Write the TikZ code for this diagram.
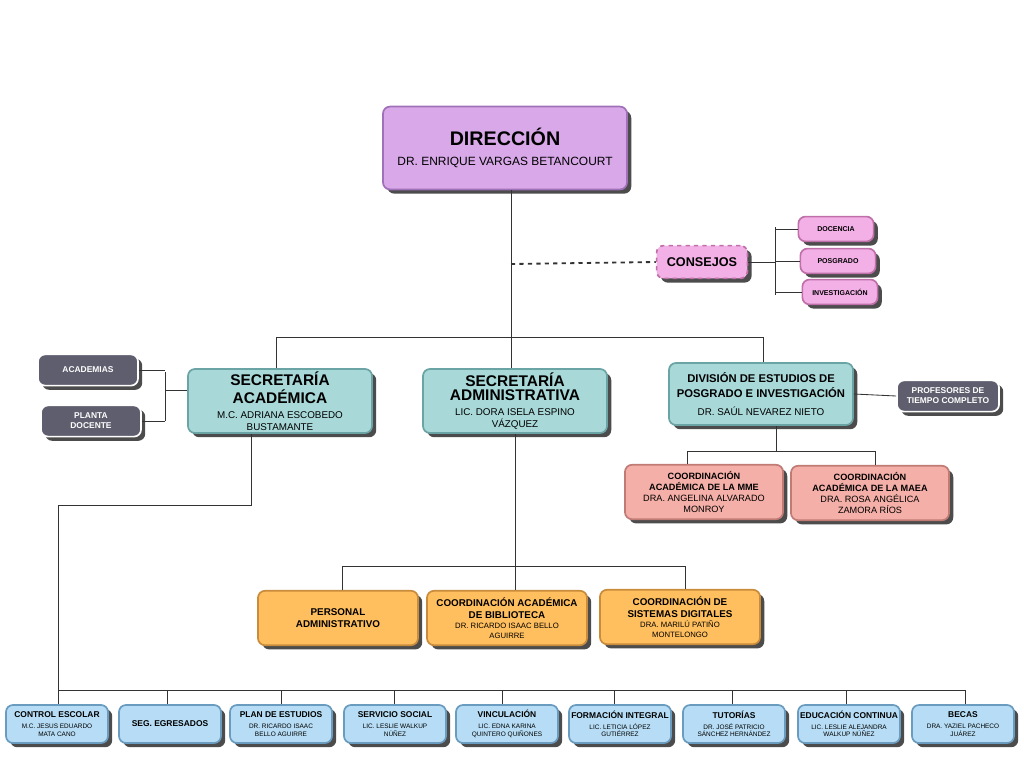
\documentclass[tikz,border=0pt]{standalone}
\usepackage{fontspec}
\setmainfont{Liberation Sans}
\usetikzlibrary{shadows}
\definecolor{lila}{HTML}{D8A8E8}
\definecolor{lilaB}{HTML}{A070B8}
\definecolor{rosa}{HTML}{F2B0E6}
\definecolor{rosaB}{HTML}{C070A8}
\definecolor{gris}{HTML}{5E5E6E}
\definecolor{verdeag}{HTML}{A8D8D8}
\definecolor{verdeagB}{HTML}{6AA4A4}
\definecolor{salmon}{HTML}{F4B0A8}
\definecolor{salmonB}{HTML}{C07C74}
\definecolor{naranja}{HTML}{FFBF5E}
\definecolor{naranjaB}{HTML}{C88C3C}
\definecolor{celeste}{HTML}{B6DDF5}
\definecolor{celesteB}{HTML}{6A9CC0}
\newcommand{\tit}[2]{{\fontsize{#1}{#1}\selectfont\bfseries #2}}
\tikzset{
  box/.style={draw, line width=1.2pt, rounded corners=5pt, align=center,
    inner sep=1pt, drop shadow={shadow xshift=3pt, shadow yshift=-3pt, fill=black!70, opacity=1}},
  dir/.style={box, fill=lila, draw=lilaB, minimum width=6.1cm, minimum height=2.07cm, font=\fontsize{8.5}{10}\selectfont},
  cons/.style={box, fill=rosa, draw=rosaB, dashed, minimum width=2.27cm, minimum height=0.82cm, font=\bfseries\small},
  sub/.style={box, fill=rosa, draw=rosaB, minimum width=1.88cm, minimum height=0.62cm, font=\bfseries\fontsize{5}{6}\selectfont},
  dark/.style={box, fill=gris, draw=white, text=white, minimum width=2.5cm, minimum height=0.78cm, font=\bfseries\fontsize{6}{7}\selectfont},
  sec/.style={box, fill=verdeag, draw=verdeagB, minimum width=4.6cm, minimum height=1.6cm, font=\fontsize{7}{8.5}\selectfont},
  coord/.style={box, fill=salmon, draw=salmonB, minimum width=3.95cm, minimum height=1.36cm, font=\fontsize{6.5}{8}\selectfont},
  adm/.style={box, fill=naranja, draw=naranjaB, minimum width=4cm, minimum height=1.36cm, font=\fontsize{5.5}{7}\selectfont},
  low/.style={box, fill=celeste, draw=celesteB, minimum width=2.55cm, minimum height=0.95cm, font=\fontsize{4.6}{5.6}\selectfont},
  ln/.style={draw=black!80, line width=0.6pt}
}
\begin{document}
\begin{tikzpicture}[x=0.025cm, y=-0.025cm]
\useasboundingbox (0,0) rectangle (1024,768);
% direccion y consejos
\node[dir] (dir) at (505,148) {\tit{14}{DIRECCIÓN}\\[4pt]DR. ENRIQUE VARGAS BETANCOURT};
\node[cons] (cons) at (702,262) {CONSEJOS};
\node[sub] (doc) at (836,229) {DOCENCIA};
\node[sub] (pos) at (838,261) {POSGRADO};
\node[sub] (inv) at (840,292) {INVESTIGACIÓN};
% secretarias
\node[sec] (sa) at (280,401) {\tit{11}{SECRETARÍA}\\[2pt]\tit{11}{ACADÉMICA}\\[2pt]M.C. ADRIANA ESCOBEDO\\BUSTAMANTE};
\node[sec] (sad) at (515,401) {\tit{11}{SECRETARÍA}\\[2pt]\tit{11}{ADMINISTRATIVA}\\[2pt]LIC. DORA ISELA ESPINO\\VÁZQUEZ};
\node[sec, minimum height=1.55cm] (div) at (761,394) {\tit{8}{DIVISIÓN DE ESTUDIOS DE}\\[2pt]\tit{8}{POSGRADO E INVESTIGACIÓN}\\[4pt]DR. SAÚL NEVAREZ NIETO};
\node[dark] (aca) at (88,370) {ACADEMIAS};
\node[dark] (pla) at (91,421) {PLANTA\\DOCENTE};
\node[dark, minimum width=2.55cm] (prof) at (948,396) {PROFESORES DE\\TIEMPO COMPLETO};
\node[coord] (mme) at (704,492) {\textbf{COORDINACIÓN}\\\textbf{ACADÉMICA DE LA MME}\\DRA. ANGELINA ALVARADO\\MONROY};
\node[coord] (maea) at (870,493) {\textbf{COORDINACIÓN}\\\textbf{ACADÉMICA DE LA MAEA}\\DRA. ROSA ANGÉLICA\\ZAMORA RÍOS};
% administrativa
\node[adm] (per) at (338,618) {\tit{7}{PERSONAL}\\[2pt]\tit{7}{ADMINISTRATIVO}};
\node[adm] (bib) at (507,618) {\tit{7}{COORDINACIÓN ACADÉMICA}\\[2pt]\tit{7}{DE BIBLIOTECA}\\DR. RICARDO ISAAC BELLO\\AGUIRRE};
\node[adm] (sis) at (680,617) {\tit{7}{COORDINACIÓN DE}\\[2pt]\tit{7}{SISTEMAS DIGITALES}\\DRA. MARILÚ PATIÑO\\MONTELONGO};
% fila inferior
\node[low] (se) at (170,724) {\tit{6}{SEG. EGRESADOS}};
\foreach \nm/\x/\ttxt/\pers in {
  ce/57/CONTROL ESCOLAR/{M.C. JESUS EDUARDO\\MATA CANO},
  pe/281/PLAN DE ESTUDIOS/{DR. RICARDO ISAAC\\BELLO AGUIRRE},
  ss/395/SERVICIO SOCIAL/{LIC. LESLIE WALKUP\\NÚÑEZ},
  vi/507/VINCULACIÓN/{LIC. EDNA KARINA\\QUINTERO QUIÑONES},
  fi/620/FORMACIÓN INTEGRAL/{LIC. LETICIA LÓPEZ\\GUTIÉRREZ},
  tu/734/TUTORÍAS/{DR. JOSÉ PATRICIO\\SÁNCHEZ HERNÁNDEZ},
  ec/849/EDUCACIÓN CONTINUA/{LIC. LESLIE ALEJANDRA\\WALKUP NÚÑEZ},
  be/963/BECAS/{DRA. YAZIEL PACHECO\\JUÁREZ}}
  \node[low] (\nm) at (\x,724) {\tit{6}{\ttxt}\\[2pt]\pers};
% conectores
\coordinate (bus1) at (511,337);
\coordinate (busL) at (276,337);
\coordinate (busR) at (763,337);
\draw[ln] (dir.south -| bus1) -- (bus1);
\draw[ln] (busL) -- (busR) (busL) -- (sa.north -| busL);
\draw[ln] (sad.north -| bus1) -- (bus1);
\draw[ln] (busR) -- (div.north -| busR);
\draw[ln, dashed, line width=1.3pt] (511,264) -- (cons.west);
\draw[ln] (cons.east) -- (775,262) (775,227) -- (775,295);
\foreach \s in {doc,pos,inv} \draw[ln] (\s.west) -- (\s.west -| 775,0);
\draw[ln] (sa.west |- 0,390) -- (165,390) (165,372) -- (165,421);
\draw[ln] (aca.east) -- (aca.east -| 165,0) (pla.east) -- (pla.east -| 165,0);
\draw[ln] (div.east) -- (prof.west);
\draw[ln] (div.south -| 776,0) -- (776,451) (687,451) -- (875,451);
\draw[ln] (mme.north -| 687,0) -- (687,451) (maea.north -| 875,0) -- (875,451);
\draw[ln] (sad.south) -- (515,566) (342,566) -- (685,566);
\draw[ln] (per.north -| 342,0) -- (342,566) (bib.north -| 515,0) -- (515,566) (sis.north -| 685,0) -- (685,566);
\draw[ln] (sa.south -| 251,0) -- (251,505) -- (58,505) -- (58,690) -- (965,690);
\foreach \s/\x in {ce/58,se/167,pe/281,ss/394,vi/502,fi/614,tu/732,ec/846,be/965}
  \draw[ln] (\x,690) -- (\s.north -| \x,0);
\end{tikzpicture}
\end{document}
